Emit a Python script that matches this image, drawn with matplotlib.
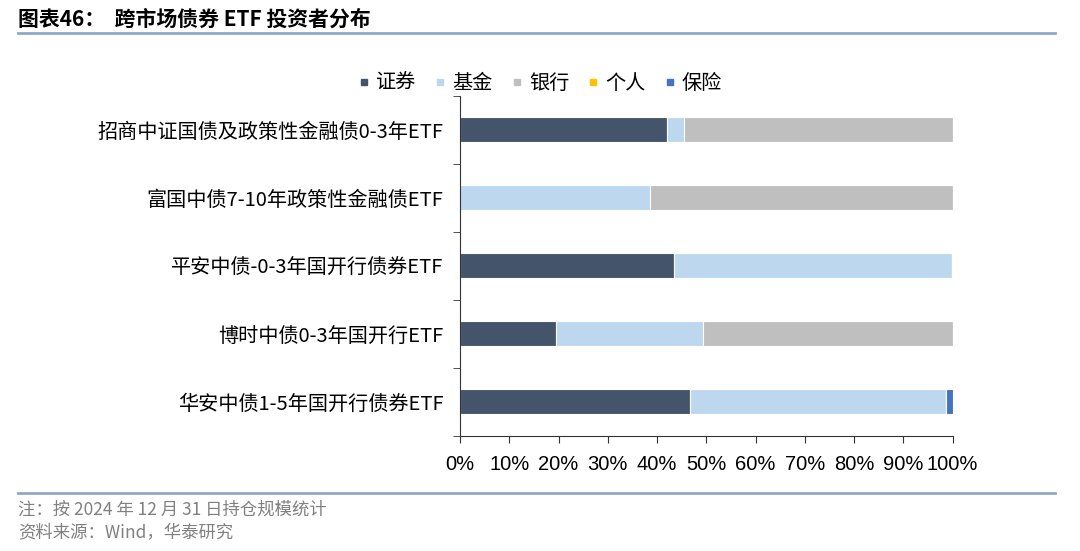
import numpy as np
import matplotlib
matplotlib.use('Agg')
import matplotlib.pyplot as plt
from matplotlib.lines import Line2D

plt.rcParams['font.family'] = ['Noto Sans CJK SC', 'DejaVu Sans']

# data, top to bottom
funds = ['招商中证国债及政策性金融债0-3年ETF', '富国中债7-10年政策性金融债ETF',
         '平安中债-0-3年国开行债券ETF', '博时中债0-3年国开行ETF', '华安中债1-5年国开行债券ETF']
series = ['证券', '基金', '银行', '个人', '保险']
sec = [42.1, 0.0, 43.5, 19.5, 46.7]
fund = [3.3, 38.5, 56.3, 29.8, 52.0]
bank = [54.6, 61.5, 0.0, 50.7, 0.0]
indiv = [0.0, 0.0, 0.0, 0.0, 0.0]
insur = [0.0, 0.0, 0.0, 0.0, 1.3]
colors = ['#44546A', '#BDD7EE', '#BFBFBF', '#FFC000', '#4472C4']

fig = plt.figure(figsize=(10.8, 5.51), dpi=100)
ax = fig.add_axes([0.426, 0.209, 0.456, 0.617])

y = np.arange(len(funds))[::-1]
left = np.zeros(len(funds))
for name, vals, c in zip(series, [sec, fund, bank, indiv, insur], colors):
    vals = np.array(vals)
    ax.barh(y, vals, left=left, height=0.37, color=c, edgecolor='white', linewidth=0.8, label=name)
    left += vals

ax.set_xlim(0, 100)
ax.set_ylim(-0.5, len(funds) - 0.5)
ax.set_xticks(np.arange(0, 101, 10))
ax.set_xticklabels([f'{v}%' for v in range(0, 101, 10)], fontsize=14.5, family='Liberation Sans')
ax.set_yticks(y)
ax.set_yticklabels(funds, fontsize=14.5)
ax.tick_params(axis='y', length=0, pad=12)
ax.set_yticks(np.arange(-0.5, len(funds), 1), minor=True)
ax.tick_params(axis='y', which='minor', length=5, direction='out', color='#333333')
ax.tick_params(axis='x', length=5, direction='out', color='#333333', pad=9)
for s in ['top', 'right']:
    ax.spines[s].set_visible(False)
ax.spines['left'].set_color('#333333')
ax.spines['bottom'].set_color('#333333')

handles = [Line2D([], [], marker='s', linestyle='none', markersize=5, color=c) for c in colors]
fig.legend(handles, series, loc='center', bbox_to_anchor=(0.5, 0.849), ncol=5, frameon=False,
           fontsize=14.5, handlelength=0.6, handletextpad=0.3, columnspacing=0.9)

# header and footer
fig.text(0.017, 0.965, '图表46：  跨市场债券 ETF 投资者分布', fontsize=15, fontweight='bold', va='center', ha='left')
fig.add_artist(Line2D([0.017, 0.977], [0.94, 0.94], color='#8EA9C8', linewidth=2))
fig.add_artist(Line2D([0.017, 0.977], [0.105, 0.105], color='#8EA9C8', linewidth=2))
fig.text(0.017, 0.075, '注：按 2024 年 12 月 31 日持仓规模统计', fontsize=12.5, color='#808080', va='center')
fig.text(0.017, 0.033, '资料来源：Wind，华泰研究', fontsize=12.5, color='#808080', va='center')

fig.savefig('out.png', dpi=100)
